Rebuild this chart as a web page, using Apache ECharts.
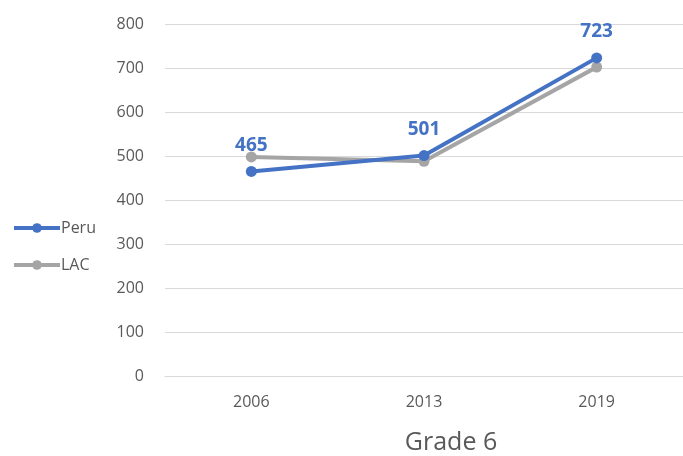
<!DOCTYPE html>
<html><head><meta charset="utf-8">
<script src="https://cdn.jsdelivr.net/npm/echarts@6/dist/echarts.min.js"></script>
<style>html,body{margin:0;padding:0;background:#fff}#c{width:683px;height:456px}</style>
</head><body><div id="c"></div>
<script>
const categories = ['2006', '2013', '2019'];
const peru = [465, 501, 723];
const lac = [498, 488, 702];
const yTicks = {min: 0, max: 800, interval: 100};
const titleText = 'Grade 6';

const chart = echarts.init(document.getElementById('c'));
const font = 'Open Sans';
chart.setOption({
  animation: false,
  backgroundColor: '#fff',
  title: {text: titleText, left: 446, top: 425, textAlign: 'center',
    textStyle: {fontFamily: font, fontSize: 25, fontWeight: 'normal', color: '#595959'}},
  legend: {orient: 'vertical', left: 7, top: 215, itemWidth: 46, itemHeight: 12, itemGap: 21,
    lineStyle: {width: 4},
    textStyle: {fontFamily: font, fontSize: 16, color: '#595959', padding: [0,0,0,-4]},
    data: ['Peru', 'LAC']},
  grid: {left: 165, right: -3, top: 24, bottom: 80},
  xAxis: {type: 'category', data: categories, boundaryGap: true,
    axisLine: {lineStyle: {color: '#d9d9d9', width: 1}}, axisTick: {show: false},
    axisLabel: {fontFamily: font, fontSize: 16, color: '#595959', margin: 18}},
  yAxis: {type: 'value', min: yTicks.min, max: yTicks.max, interval: yTicks.interval,
    axisLine: {show: false}, axisTick: {show: false},
    splitLine: {lineStyle: {color: '#d9d9d9', width: 1}},
    axisLabel: {fontFamily: font, fontSize: 16, color: '#595959', margin: 21}},
  series: [
    {name: 'LAC', type: 'line', data: lac, symbol: 'circle', symbolSize: 11,
      lineStyle: {color: '#a5a5a5', width: 4}, itemStyle: {color: '#a5a5a5'}, z: 2},
    {name: 'Peru', type: 'line', data: peru, symbol: 'circle', symbolSize: 11,
      lineStyle: {color: '#4472c4', width: 4}, itemStyle: {color: '#4472c4'}, z: 3,
      label: {show: true, position: 'top', distance: 11, fontFamily: font, fontSize: 19,
        fontWeight: 'bold', color: '#4472c4'}}
  ]
});
</script></body></html>
